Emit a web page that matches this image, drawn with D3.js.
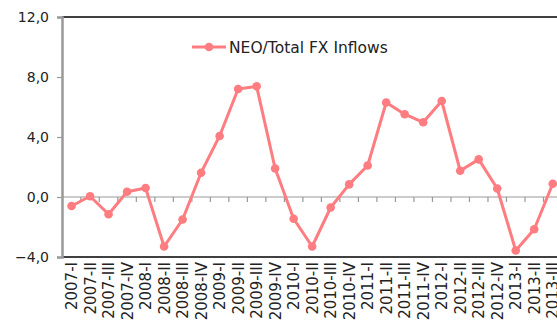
<!DOCTYPE html>
<html><head><meta charset="utf-8">
<script src="https://cdn.jsdelivr.net/npm/d3@7"></script>
<style>body{margin:0;background:#fff;overflow:hidden}svg{display:block}</style>
</head><body>
<script>
const categories = ["2007-I","2007-II","2007-III","2007-IV","2008-I","2008-II","2008-III","2008-IV",
"2009-I","2009-II","2009-III","2009-IV","2010-I","2010-II","2010-III","2010-IV",
"2011-I","2011-II","2011-III","2011-IV","2012-I","2012-II","2012-III","2012-IV",
"2013-I","2013-II","2013-III"];
const values = [-0.6,0.05,-1.15,0.35,0.6,-3.3,-1.5,1.62,4.07,7.2,7.38,1.9,-1.45,-3.3,-0.7,0.84,
2.1,6.3,5.52,4.98,6.4,1.75,2.51,0.57,-3.57,-2.15,0.88];
const yTicks = [-4,0,4,8,12];
const seriesName = "NEO/Total FX Inflows";

const W=557,H=324;
const svg=d3.select("body").append("svg").attr("width",W).attr("height",H);
const font="DejaVu Sans";
const x=d3.scaleBand().domain(categories).range([62.3,562]);
const y=d3.scaleLinear().domain([-4,12]).range([257,17]);
const color="#ff7c80";

// top & bottom borders
svg.append("line").attr("x1",62).attr("x2",W).attr("y1",y(12)).attr("y2",y(12)).attr("stroke","#000").attr("stroke-width",1.5);
svg.append("line").attr("x1",62).attr("x2",W).attr("y1",y(-4)).attr("y2",y(-4)).attr("stroke","#000").attr("stroke-width",1.5);

// zero line axis with tick marks
const xAxis=svg.append("g").attr("transform",`translate(0,${y(0)})`);
xAxis.append("line").attr("x1",62).attr("x2",W).attr("stroke","#999").attr("stroke-width",1.2);
xAxis.selectAll("line.t").data(categories.slice(1)).join("line").attr("class","t")
 .attr("x1",d=>x(d)).attr("x2",d=>x(d)).attr("y1",0).attr("y2",5).attr("stroke","#999").attr("stroke-width",1.2);

// y axis
const yAxis=svg.append("g").attr("transform","translate(62,0)")
 .call(d3.axisLeft(y).tickValues(yTicks).tickSize(5).tickPadding(8).tickFormat(d=>d3.format(".1f")(d).replace(".",",")));
yAxis.select(".domain").attr("stroke","#999").attr("stroke-width",2.5);
yAxis.selectAll(".tick line").attr("stroke","#999").attr("stroke-width",1.2);
yAxis.selectAll(".tick text").attr("font-family",font).attr("font-size",14).attr("fill","#222");

// x labels
svg.append("g").selectAll("text").data(categories).join("text")
 .attr("transform",d=>`translate(${x(d)+x.bandwidth()/2+5.5},262) rotate(-90)`)
 .attr("text-anchor","end").attr("font-family",font).attr("font-size",15).attr("fill","#222")
 .text(d=>d);

// line
const cx=(d,i)=>x(categories[i])+x.bandwidth()/2;
svg.append("path").datum(values).attr("fill","none").attr("stroke",color).attr("stroke-width",3)
 .attr("stroke-linejoin","round")
 .attr("d",d3.line().x((d,i)=>cx(d,i)).y(d=>y(d)));
svg.append("g").selectAll("circle").data(values).join("circle")
 .attr("cx",(d,i)=>cx(d,i)).attr("cy",d=>y(d)).attr("r",4.3).attr("fill",color);

// legend
const lg=svg.append("g").attr("transform","translate(192,47)");
lg.append("line").attr("x1",0).attr("x2",34).attr("stroke",color).attr("stroke-width",3);
lg.append("circle").attr("cx",17).attr("r",4.3).attr("fill",color);
lg.append("text").attr("x",37).attr("y",5.5).attr("font-family",font).attr("font-size",15.5).attr("fill","#222").text(seriesName);
</script>
</body></html>
